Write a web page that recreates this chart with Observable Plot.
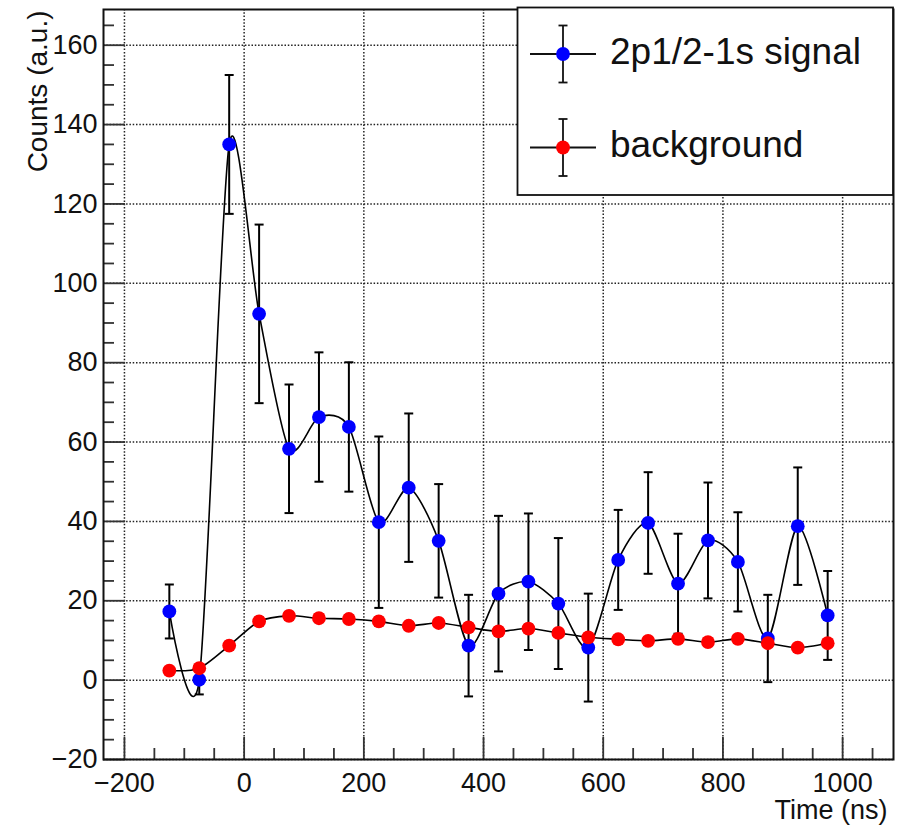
<!DOCTYPE html>
<html><head><meta charset="utf-8">
<script src="https://cdn.jsdelivr.net/npm/d3@7"></script>
<script src="https://cdn.jsdelivr.net/npm/@observablehq/plot@0.6"></script>
<style>body{margin:0;background:#fff} #chart{width:902px;height:829px}</style>
</head><body><div id="chart"></div>
<script>
// ---- data ----
const time = [-125, -75, -25, 25, 75, 125, 175, 225, 275, 325, 375, 425, 475, 525, 575, 625, 675, 725, 775, 825, 875, 925, 975];
const signal = [17.3, 0.1, 135.0, 92.3, 58.3, 66.3, 63.8, 39.8, 48.5, 35.1, 8.7, 21.8, 24.8, 19.3, 8.2, 30.3, 39.6, 24.3, 35.2, 29.8, 10.5, 38.8, 16.3];
const signalErr = [6.8, 3.7, 17.5, 22.5, 16.2, 16.3, 16.3, 21.6, 18.7, 14.3, 12.8, 19.6, 17.2, 16.5, 13.6, 12.6, 12.8, 12.6, 14.6, 12.5, 11.0, 14.8, 11.2];
const background = [2.4, 3.0, 8.7, 14.8, 16.2, 15.6, 15.4, 14.8, 13.7, 14.4, 13.3, 12.3, 13.0, 11.9, 10.8, 10.3, 9.9, 10.4, 9.6, 10.4, 9.3, 8.2, 9.3];
const backgroundErr = [0.8, 0.8, 1.0, 1.0, 1.0, 1.0, 1.0, 1.0, 1.0, 1.0, 1.0, 1.0, 1.0, 1.0, 0.9, 0.9, 0.9, 0.9, 0.9, 0.9, 0.9, 0.9, 0.9];
const seriesNames = ["2p1/2-1s signal", "background"];
const seriesColors = ["#0000ff", "#ff0000"];
const xMajor = [-200, 0, 200, 400, 600, 800, 1000];
const xMinor = [-150, -100, -50, 50, 100, 150, 250, 300, 350, 450, 500, 550, 650, 700, 750, 850, 900, 950, 1050];
const yMajor = [-20, 0, 20, 40, 60, 80, 100, 120, 140, 160];
const yMinor = [-15, -10, -5, 5, 10, 15, 25, 30, 35, 45, 50, 55, 65, 70, 75, 85, 90, 95, 105, 110, 115, 125, 130, 135, 145, 150, 155, 165];
const xLabel = "Time (ns)";
const yLabel = "Counts (a.u.)";

const sig = time.map((t, i) => ({t, v: signal[i], e: signalErr[i]}));
const bkg = time.map((t, i) => ({t, v: background[i], e: backgroundErr[i]}));

// ---- layout ----
const W = 902, H = 829, mL = 103, mR = 9, mT = 9, mB = 70;
const pw = W - mL - mR, ph = H - mT - mB;
const font = "'Liberation Sans', Arial, Helvetica, sans-serif";
const fmt = d => (d < 0 ? "\u2212" : "") + Math.abs(d);
const cap = {draw(ctx) { ctx.moveTo(-4.5, 0); ctx.lineTo(4.5, 0); }};
const gridStyle = {stroke: "#222", strokeOpacity: 1, strokeWidth: 1.5, strokeDasharray: "1.5,1.8"};
const tickStyle = {stroke: "#333", strokeWidth: 1.8};

function seriesMarks(data, color) {
  return [
    Plot.line(data, {x: "t", y: "v", curve: "cardinal", tension: 0.2, stroke: "#000", strokeWidth: 1.6}),
    Plot.ruleX(data, {x: "t", y1: d => d.v - d.e, y2: d => d.v + d.e, stroke: "#000", strokeWidth: 2}),
    Plot.dot(data, {x: "t", y: d => d.v + d.e, symbol: cap, stroke: "#000", strokeWidth: 2, fill: "none"}),
    Plot.dot(data, {x: "t", y: d => d.v - d.e, symbol: cap, stroke: "#000", strokeWidth: 2, fill: "none"}),
    Plot.dot(data, {x: "t", y: "v", r: 6.9, fill: color, stroke: null})
  ];
}

const plot = Plot.plot({
  width: W, height: H, marginLeft: mL, marginRight: mR, marginTop: mT, marginBottom: mB,
  style: {fontFamily: font, fontSize: "27px", color: "#111", background: "white"},
  x: {domain: [-235, 1085]},
  y: {domain: [-20, 169]},
  marks: [
    Plot.gridX(xMajor, gridStyle),
    Plot.gridY(yMajor, gridStyle),
    Plot.tickX(xMajor, {...tickStyle, insetTop: ph - 22}),
    Plot.tickX(xMinor, {...tickStyle, insetTop: ph - 11}),
    Plot.tickY(yMajor, {...tickStyle, insetRight: pw - 22}),
    Plot.tickY(yMinor, {...tickStyle, insetRight: pw - 11}),
    Plot.axisX(xMajor, {tickSize: 0, tickPadding: 13, fontSize: 27, label: null, fill: "#111", tickFormat: fmt}),
    Plot.axisY(yMajor, {tickSize: 0, tickPadding: 6, fontSize: 27, label: null, fill: "#111", tickFormat: fmt}),
    ...seriesMarks(sig, seriesColors[0]),
    ...seriesMarks(bkg, seriesColors[1]),
    Plot.frame({stroke: "#111", strokeWidth: 2}),
    Plot.text([yLabel], {text: d => d, frameAnchor: "top-left", rotate: -90, textAnchor: "end", lineAnchor: "bottom", dx: -57, dy: 1, fontSize: 28, fill: "#111"}),
    Plot.text([xLabel], {text: d => d, frameAnchor: "bottom-right", textAnchor: "end", lineAnchor: "bottom", dx: -6, dy: 59, fontSize: 27, fill: "#111"})
  ]
});

// ---- legend (drawn inside the svg, top right) ----
const svg = d3.select(plot);
const lg = svg.append("g").attr("font-family", font).attr("text-anchor", "start");
lg.append("rect").attr("x", 517.5).attr("y", 7.5).attr("width", 375.5).attr("height", 187.5)
  .attr("fill", "white").attr("stroke", "#111").attr("stroke-width", 1.8);
seriesNames.forEach((name, i) => {
  const cy = 54 + i * 93.5, cx = 563;
  const g = lg.append("g");
  g.append("line").attr("x1", 530).attr("x2", 596).attr("y1", cy).attr("y2", cy).attr("stroke", "#111").attr("stroke-width", 1.8);
  g.append("line").attr("x1", cx).attr("x2", cx).attr("y1", cy - 28.5).attr("y2", cy + 28.5).attr("stroke", "#111").attr("stroke-width", 1.8);
  [cy - 28.5, cy + 28.5].forEach(yy => g.append("line").attr("x1", cx - 4.5).attr("x2", cx + 4.5).attr("y1", yy).attr("y2", yy).attr("stroke", "#111").attr("stroke-width", 1.8));
  g.append("circle").attr("cx", cx).attr("cy", cy).attr("r", 6.9).attr("fill", seriesColors[i]);
  g.append("text").attr("x", 610).attr("y", cy + 9.5).attr("font-size", 37).attr("fill", "#111").attr("text-anchor", "start").text(name);
});

document.getElementById("chart").appendChild(plot);
</script>
</body></html>
